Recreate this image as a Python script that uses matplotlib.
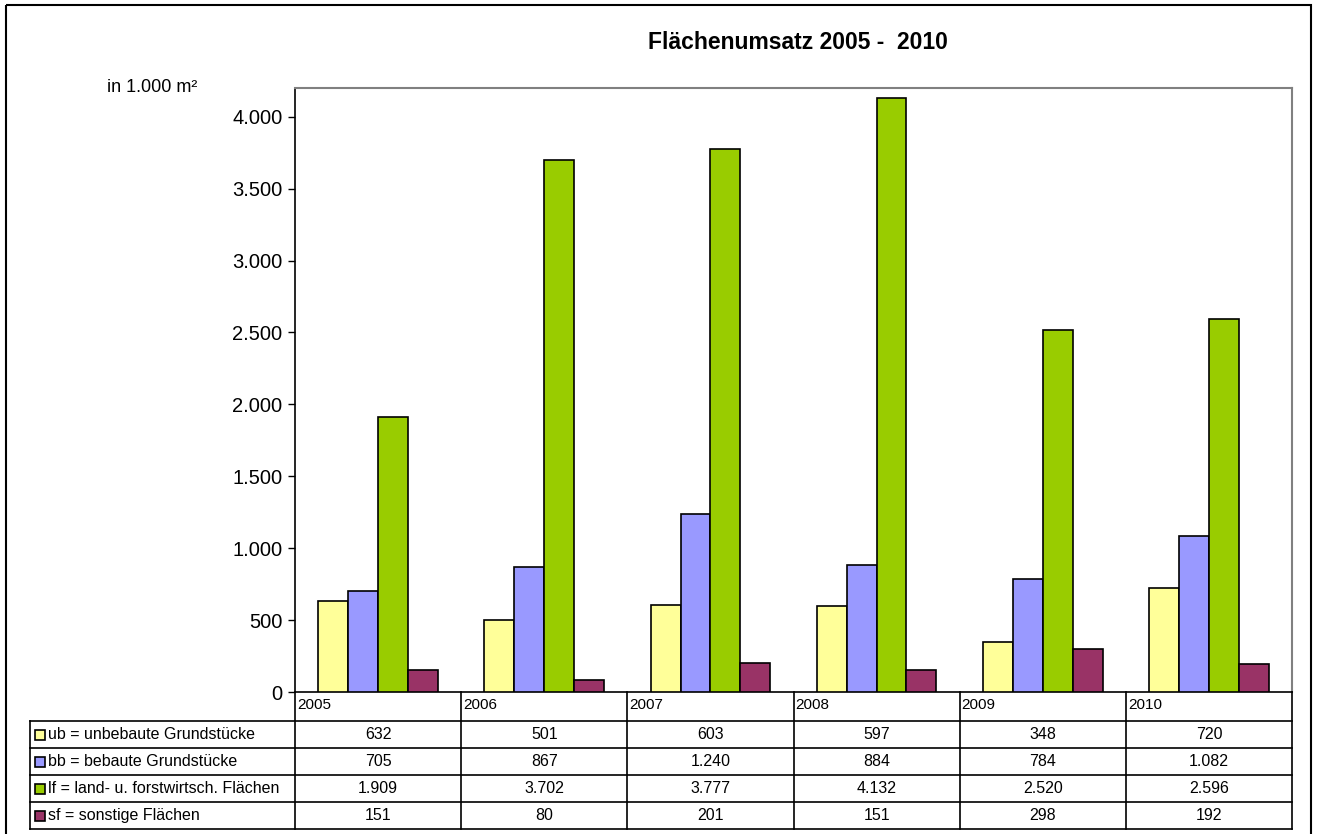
import numpy as np
import matplotlib
matplotlib.use('Agg')
import matplotlib.pyplot as plt
from matplotlib.ticker import FuncFormatter
from matplotlib.patches import Rectangle

plt.rcParams['font.family'] = ['Liberation Sans', 'DejaVu Sans']

# Daten
jahre = ['2005', '2006', '2007', '2008', '2009', '2010']
reihen = ['ub = unbebaute Grundstücke', 'bb = bebaute Grundstücke',
          'lf = land- u. forstwirtsch. Flächen', 'sf = sonstige Flächen']
ub = [632, 501, 603, 597, 348, 720]
bb = [705, 867, 1240, 884, 784, 1082]
lf = [1909, 3702, 3777, 4132, 2520, 2596]
sf = [151, 80, 201, 151, 298, 192]
farben = ['#FFFF99', '#9999FF', '#99CC00', '#993366']

W, H = 1317, 834
fig = plt.figure(figsize=(W / 100, H / 100), dpi=100)

# Pixelgrenzen
px_l, px_r, px_t, px_b = 295, 1292, 88, 692
ax = fig.add_axes([px_l / W, 1 - px_b / H, (px_r - px_l) / W, (px_b - px_t) / H])

def tausend(v, pos=None):
    return f'{int(v):,}'.replace(',', '.')

x = np.arange(len(jahre))
breite = 0.18
for i, werte in enumerate([ub, bb, lf, sf]):
    ax.bar(x + (i - 1.5) * breite, werte, breite, color=farben[i],
           edgecolor='black', linewidth=1.2, zorder=3)

ax.set_xlim(-0.5, len(jahre) - 0.5)
ax.set_ylim(0, 4200)
ax.set_yticks(np.arange(0, 4001, 500))
ax.yaxis.set_major_formatter(FuncFormatter(tausend))
ax.tick_params(axis='y', labelsize=14.5, length=5, width=1, direction='out', pad=4)
ax.set_xticks([])
for s in ['top', 'right']:
    ax.spines[s].set_color('#808080')
    ax.spines[s].set_linewidth(1.5)
for s in ['left', 'bottom']:
    ax.spines[s].set_color('black')
    ax.spines[s].set_linewidth(1.2)

# Datentabelle unterhalb
tab_l, tab_b = 30, 829
kopf = 721
zeile = (tab_b - kopf) / 4
spalte = (px_r - px_l) / len(jahre)
tx = fig.add_axes([0, 0, 1, 1])
tx.set_xlim(0, W)
tx.set_ylim(H, 0)
tx.axis('off')
lw = 1.2
# vertikale Linien der Jahresspalten
for j in range(len(jahre) + 1):
    xx = px_l + j * spalte
    tx.plot([xx, xx], [px_b, tab_b], color='black', lw=lw)
    if j < len(jahre):
        tx.text(xx + 2, px_b + 13, jahre[j], fontsize=11, va='center', ha='left')
tx.plot([tab_l, tab_l], [kopf, tab_b], color='black', lw=lw)
# horizontale Linien
tx.plot([tab_l, px_r], [kopf, kopf], color='black', lw=lw)
for r in range(1, 5):
    y = kopf + r * zeile
    tx.plot([tab_l, px_r], [y, y], color='black', lw=lw)

for r, (name, werte) in enumerate(zip(reihen, [ub, bb, lf, sf])):
    yc = kopf + (r + 0.5) * zeile
    tx.add_patch(Rectangle((35, yc - 5), 10, 10, facecolor=farben[r],
                           edgecolor='black', lw=1.2))
    tx.text(48, yc, name, fontsize=11.5, va='center', ha='left')
    for j, v in enumerate(werte):
        tx.text(px_l + (j + 0.5) * spalte, yc, tausend(v), fontsize=11.5,
                va='center', ha='center')

# Beschriftungen
tx.text(798, 42, 'Flächenumsatz 2005 -  2010', fontsize=16.5, fontweight='bold',
        ha='center', va='center')
tx.text(107, 87, 'in 1.000 m²', fontsize=13, ha='left', va='center')

# Rahmen um das Diagramm
tx.add_patch(Rectangle((6, 5), W - 12, H + 10, fill=False, edgecolor='black', lw=1.5))

fig.savefig('out.png', dpi=100)
